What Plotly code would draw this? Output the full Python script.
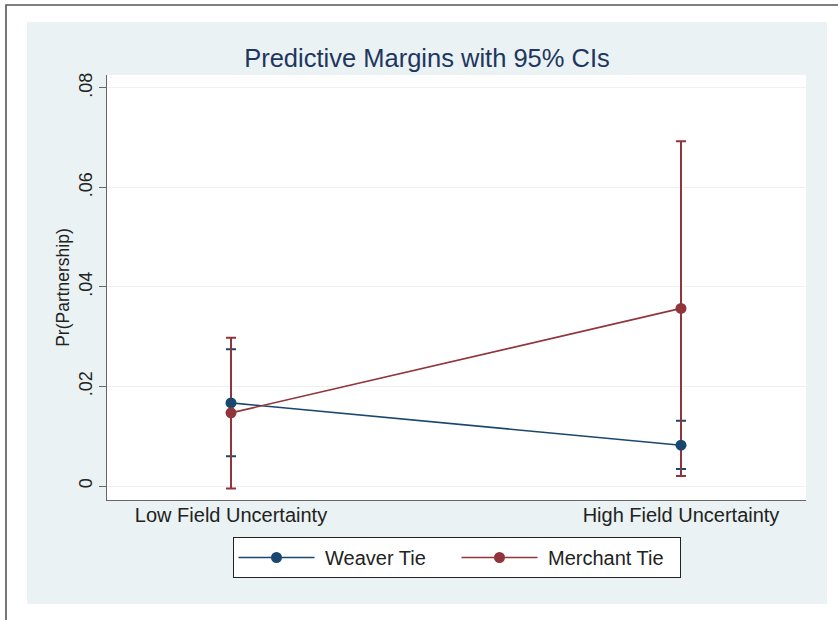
import plotly.graph_objects as go

# ---- data ----
categories = ["Low Field Uncertainty", "High Field Uncertainty"]
series_names = ["Weaver Tie", "Merchant Tie"]
weaver_margin = [0.0167, 0.0082]
weaver_lower = [0.0060, 0.0034]
weaver_upper = [0.0275, 0.0131]
merchant_margin = [0.0147, 0.0357]
merchant_lower = [-0.0005, 0.0020]
merchant_upper = [0.0298, 0.0693]
y_tickvals = [0, 0.02, 0.04, 0.06, 0.08]
y_ticktext = ["0", ".02", ".04", ".06", ".08"]

NAVY = "#1a476f"
MAROON = "#90353b"
BG = "#eaf2f3"
FONT = "Liberation Sans, Arial, Helvetica, sans-serif"

W, H = 838, 620
L, R, T, B = 107, 806, 75, 500  # plot area in px

def px_x(x):
    return (x - L) / (R - L)

def px_y(y):
    return (B - y) / (B - T)

fig = go.Figure()

series = [
    (series_names[0], weaver_margin, weaver_lower, weaver_upper, NAVY),
    (series_names[1], merchant_margin, merchant_lower, merchant_upper, MAROON),
]

# CI caps first (drawn beneath lines/markers)
for name, m, lo, hi, col in series:
    fig.add_trace(go.Scatter(
        x=categories, y=m, mode="markers",
        marker=dict(size=1, opacity=0, color=col),
        error_y=dict(type="data", symmetric=False,
                     array=[h - v for h, v in zip(hi, m)],
                     arrayminus=[v - l for v, l in zip(m, lo)],
                     color=col, thickness=2, width=5),
        showlegend=False, hoverinfo="skip",
    ))

for name, m, lo, hi, col in series:
    fig.add_trace(go.Scatter(
        x=categories, y=m, mode="lines+markers", name=" " + name,
        line=dict(color=col, width=1.6),
        marker=dict(color=col, size=11),
    ))

shapes = [
    # graph region
    dict(type="rect", xref="paper", yref="paper",
         x0=px_x(27), x1=px_x(827), y0=px_y(604), y1=px_y(22),
         fillcolor=BG, line=dict(width=0), layer="below"),
    # plot region
    dict(type="rect", xref="paper", yref="paper",
         x0=0, x1=1, y0=0, y1=1,
         fillcolor="white", line=dict(width=0), layer="below"),
    # outer border
    dict(type="rect", xref="paper", yref="paper",
         x0=px_x(6), x1=px_x(860), y0=px_y(640), y1=px_y(5),
         fillcolor="rgba(0,0,0,0)", line=dict(width=1.6, color="#555"), layer="below"),
]

fig.update_layout(
    width=W, height=H,
    margin=dict(l=L, r=W - R, t=T, b=H - B),
    paper_bgcolor="white", plot_bgcolor="rgba(0,0,0,0)",
    font=dict(family=FONT, color="#222"),
    shapes=shapes,
    title=dict(text="Predictive Margins with 95% CIs",
               font=dict(size=25.5, color="#1e3660", family=FONT),
               xref="paper", x=px_x(427), xanchor="center",
               yref="container", y=1 - 58 / H, yanchor="middle"),
    xaxis=dict(type="category", range=[-0.2756, 1.2778],
               showline=True, linecolor="#666", linewidth=1.2,
               ticks="", showgrid=False, zeroline=False,
               ticklabelstandoff=-3,
               tickfont=dict(size=20, color="#222")),
    yaxis=dict(range=[-0.002814, 0.08261],
               tickvals=y_tickvals, ticktext=y_ticktext,
               tickangle=-90, ticks="outside", ticklen=7, tickcolor="#666",
               showline=True, linecolor="#666", linewidth=1.2,
               showgrid=True, gridcolor=BG, gridwidth=1.2, zeroline=False,
               tickfont=dict(size=18, color="#222"),
               title=dict(text="Pr(Partnership)", font=dict(size=17.5, color="#222"),
                          standoff=1)),
    legend=dict(orientation="h", x=0.5, xanchor="center",
                y=px_y(537), yanchor="top",
                bgcolor="white", bordercolor="#222", borderwidth=1,
                font=dict(size=20, color="#222"),
                itemwidth=76, entrywidth=132, entrywidthmode="pixels"),
)

fig.write_html("out.html", config={"displayModeBar": False},
               post_script="document.body.style.margin='0';")
